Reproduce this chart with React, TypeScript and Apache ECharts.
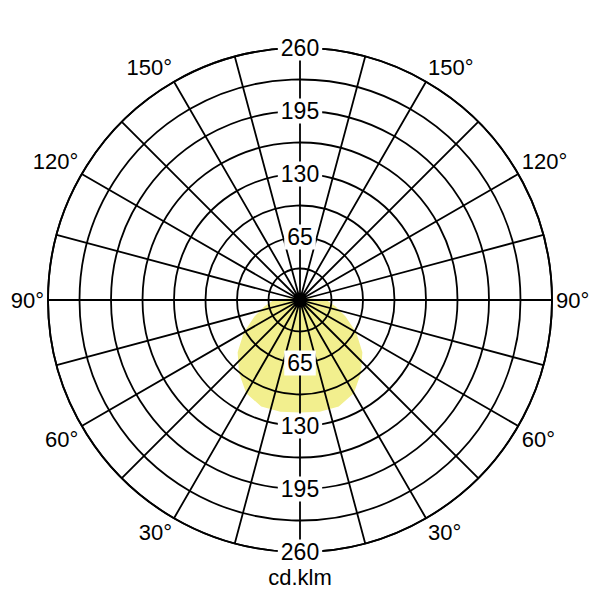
import React, { useEffect, useRef } from "react";
import * as echarts from "echarts";

// Luminous intensity distribution (cd/klm), angle measured from nadir (0° = down)
const angles = [0, 10, 20, 30, 40, 50, 60, 70, 80, 90, 100, 110];
const intensity = [116, 117, 117, 111, 98, 84, 67, 50, 37, 27, 10, 0];
const radiusMax = 260;
const radiusStep = 65;
const angleStep = 15;
const unitLabel = "cd.klm";
const FONT = "'Liberation Sans', Arial, sans-serif";

function buildCurve(): [number, number][] {
  const pts: [number, number][] = [];
  for (let i = angles.length - 1; i >= 0; i--) {
    pts.push([intensity[i], 360 - angles[i]]);
  }
  for (let i = 0; i < angles.length; i++) {
    pts.push([intensity[i], angles[i]]);
  }
  return pts;
}

export default function App() {
  const ref = useRef<HTMLDivElement>(null);
  useEffect(() => {
    if (!ref.current) return;
    const chart = echarts.init(ref.current, undefined, { renderer: "svg" });
    const black = { color: "#000", width: 1.8 };
    const radiusLabel = {
      show: true,
      margin: 0,
      align: "center",
      verticalAlign: "middle",
      backgroundColor: "#fff",
      padding: [1, 3],
      color: "#000",
      fontSize: 23,
      fontFamily: FONT,
      showMinLabel: false,
    };
    chart.setOption({
      animation: false,
      backgroundColor: "#fff",
      polar: [
        { center: [300, 300], radius: 252 },
        { center: [300, 300], radius: 252 },
      ],
      angleAxis: [
        {
          polarIndex: 0,
          type: "value",
          min: 0,
          max: 360,
          interval: angleStep,
          startAngle: 270,
          clockwise: true,
          z: 5,
          axisLine: { show: true, lineStyle: black },
          axisTick: { show: false },
          splitLine: { show: true, lineStyle: black },
          axisLabel: {
            show: true,
            margin: 4,
            color: "#000",
            fontSize: 22,
            fontFamily: FONT,
            formatter: (v: number) =>
              v % 30 === 0 && v % 180 !== 0 ? `${v <= 180 ? v : 360 - v}°` : "",
          },
        },
        {
          polarIndex: 1,
          type: "value",
          min: 0,
          max: 360,
          startAngle: 90,
          axisLine: { show: false },
          axisTick: { show: false },
          splitLine: { show: false },
          axisLabel: { show: false },
        },
      ],
      radiusAxis: [
        {
          polarIndex: 0,
          type: "value",
          min: 0,
          max: radiusMax,
          interval: radiusStep,
          z: 6,
          axisLine: { show: false },
          axisTick: { show: false },
          splitLine: { show: true, lineStyle: black },
          minorTick: { show: false, splitNumber: 2 },
          minorSplitLine: { show: true, lineStyle: black },
          axisLabel: radiusLabel,
        },
        {
          polarIndex: 1,
          type: "value",
          min: 0,
          max: radiusMax,
          interval: radiusStep,
          z: 6,
          axisLine: { show: false },
          axisTick: { show: false },
          splitLine: { show: false },
          axisLabel: radiusLabel,
        },
      ],
      title: {
        text: unitLabel,
        left: "center",
        top: 566,
        textStyle: { fontSize: 22, fontWeight: "normal", color: "#000", fontFamily: FONT },
        padding: 0,
      },
      series: [
        {
          type: "line",
          coordinateSystem: "polar",
          polarIndex: 0,
          z: 1,
          symbol: "none",
          lineStyle: { width: 0 },
          areaStyle: { color: "#f2ef8e", opacity: 1 },
          data: buildCurve(),
        },
      ],
    });
    return () => chart.dispose();
  }, []);
  return (
    <div
      ref={ref}
      style={{ position: "absolute", left: 0, top: 0, width: 600, height: 600 }}
    />
  );
}
